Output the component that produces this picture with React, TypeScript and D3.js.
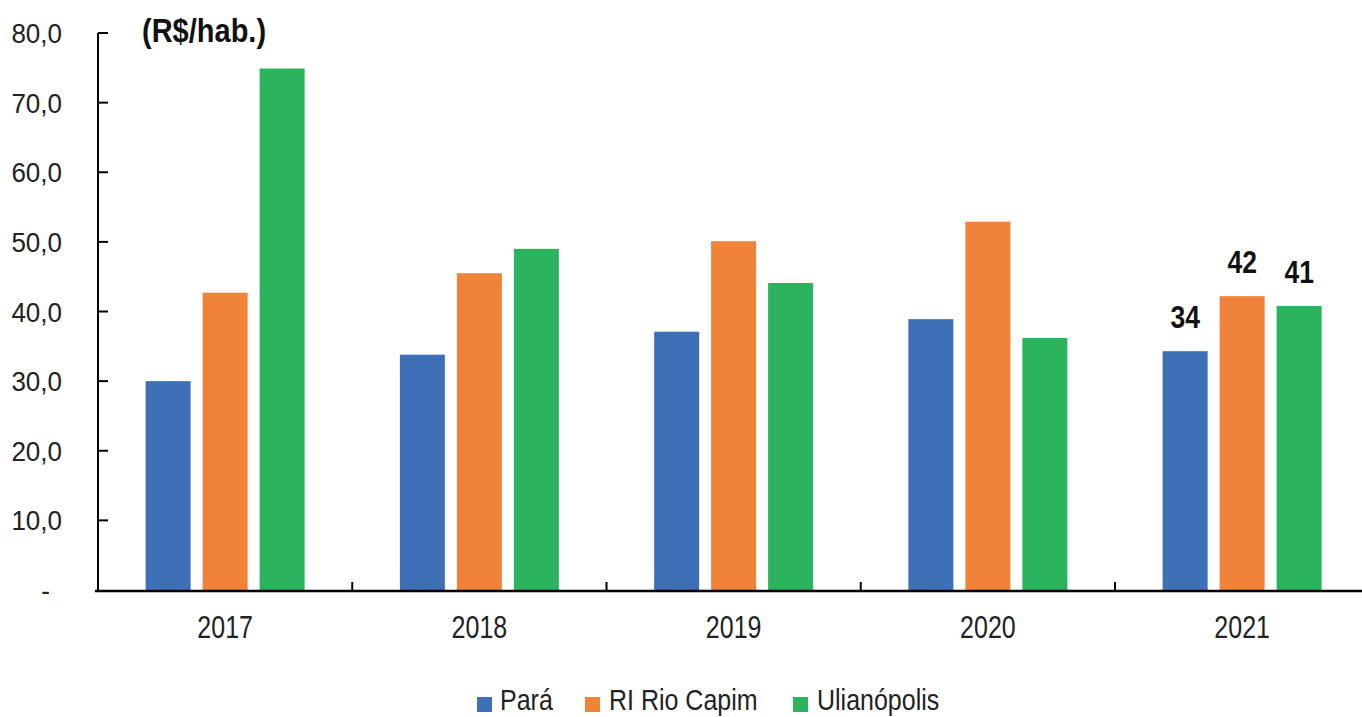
import React from "react";
import * as d3 from "d3";

const years = ["2017", "2018", "2019", "2020", "2021"];
const seriesNames = ["Pará", "RI Rio Capim", "Ulianópolis"];
const para = [30.0, 33.8, 37.1, 38.9, 34.3];
const rioCapim = [42.7, 45.5, 50.1, 52.9, 42.2];
const ulianopolis = [74.9, 49.0, 44.1, 36.2, 40.8];
const yTicks = [0, 10, 20, 30, 40, 50, 60, 70, 80];
const labelledYear = "2021";
const colors = ["#3E70B8", "#F0823A", "#2BB35D"];

const W = 1362;
const H = 717;
const FONT = "'Liberation Sans', Arial, sans-serif";

type TProps = {
  x: number;
  y: number;
  sy: number;
  size: number;
  anchor?: "start" | "middle" | "end";
  bold?: boolean;
  fill?: string;
  children: React.ReactNode;
};

function T({ x, y, sy, size, anchor = "start", bold = false, fill = "#222", children }: TProps) {
  return (
    <text
      transform={`translate(${x},${y}) scale(1,${sy})`}
      textAnchor={anchor}
      fontSize={size}
      fontWeight={bold ? "bold" : "normal"}
      fill={fill}
    >
      {children}
    </text>
  );
}

export default function App() {
  const series = [para, rioCapim, ulianopolis];
  const left = 98;
  const catW = 254.25;
  const x0 = d3.scaleBand<string>().domain(years).range([left, left + catW * years.length]).padding(0);
  const y = d3.scaleLinear().domain([0, 80]).range([590, 33]);
  const groupW = 159;
  const x1 = d3
    .scaleBand<string>()
    .domain(seriesNames)
    .range([-groupW / 2, groupW / 2])
    .paddingInner(12 / 57)
    .paddingOuter(0);

  const fmt = (v: number) => (v === 0 ? "-" : d3.format(".1f")(v).replace(".", ","));

  const legendItems = [
    { name: seriesNames[0], sx: 477, tx: 500 },
    { name: seriesNames[1], sx: 585, tx: 609 },
    { name: seriesNames[2], sx: 793, tx: 817 },
  ];

  return (
    <svg
      width={W}
      height={H}
      style={{ position: "absolute", left: 0, top: 0, background: "#fff" }}
      fontFamily={FONT}
    >
      <rect x={0} y={0} width={W} height={H} fill="#fff" />
      {/* bars */}
      {years.map((yr, i) => {
        const cx = (x0(yr) as number) + x0.bandwidth() / 2;
        return (
          <g key={yr}>
            {series.map((s, j) => {
              const bx = cx + (x1(seriesNames[j]) as number);
              return (
                <rect
                  key={j}
                  x={bx}
                  y={y(s[i])}
                  width={x1.bandwidth()}
                  height={y(0) - y(s[i])}
                  fill={colors[j]}
                />
              );
            })}
            {yr === labelledYear &&
              series.map((s, j) => (
                <T
                  key={"l" + j}
                  x={cx + (x1(seriesNames[j]) as number) + x1.bandwidth() / 2}
                  y={y(s[i]) - 23}
                  sy={1.15}
                  size={26.5}
                  anchor="middle"
                  bold
                  fill="#111"
                >
                  {Math.round(s[i])}
                </T>
              ))}
          </g>
        );
      })}
      {/* y axis */}
      <line x1={left} x2={left} y1={y(80)} y2={y(0) + 1} stroke="#000" strokeWidth={2} />
      {yTicks.map((t) => (
        <g key={t}>
          {t > 0 && <line x1={left} x2={left + 10} y1={y(t)} y2={y(t)} stroke="#000" strokeWidth={2} />}
          <T x={t === 0 ? 50 : 62} y={y(t) + 10} sy={1.08} size={26} anchor="end">
            {fmt(t)}
          </T>
        </g>
      ))}
      {/* x axis */}
      <line x1={95} x2={W} y1={y(0) + 1} y2={y(0) + 1} stroke="#000" strokeWidth={2.5} />
      {years.slice(1).map((yr) => (
        <line
          key={yr}
          x1={x0(yr) as number}
          x2={x0(yr) as number}
          y1={y(0)}
          y2={y(0) - 8}
          stroke="#000"
          strokeWidth={2}
        />
      ))}
      {years.map((yr) => (
        <T key={yr} x={(x0(yr) as number) + x0.bandwidth() / 2} y={638} sy={1.27} size={25} anchor="middle">
          {yr}
        </T>
      ))}
      {/* unit title */}
      <T x={142} y={42} sy={1.15} size={29} bold fill="#111">
        (R$/hab.)
      </T>
      {/* legend */}
      {legendItems.map((it, j) => (
        <g key={it.name}>
          <rect x={it.sx} y={697} width={15} height={15} fill={colors[j]} />
          <T x={it.tx} y={709.5} sy={1.16} size={25}>
            {it.name}
          </T>
        </g>
      ))}
    </svg>
  );
}
